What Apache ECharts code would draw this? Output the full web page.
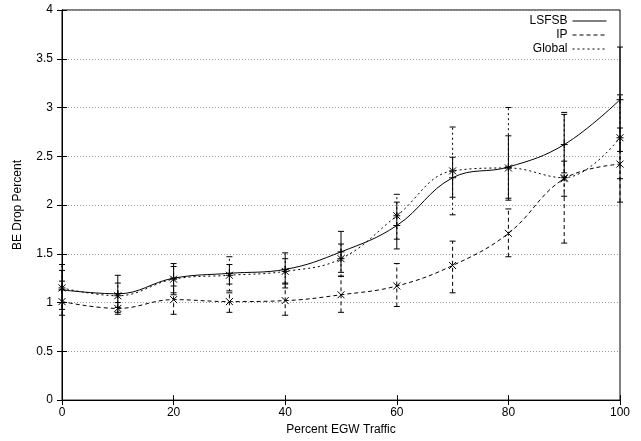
<!DOCTYPE html>
<html>
<head>
<meta charset="utf-8">
<script src="https://cdn.jsdelivr.net/npm/echarts@6/dist/echarts.min.js"></script>
<style>
html,body{margin:0;padding:0;background:#fff;}
#main{width:641px;height:441px;}
</style>
</head>
<body>
<div id="main"></div>
<script>
// percent of EGW traffic
var xVals = [0, 10, 20, 30, 40, 50, 60, 70, 80, 90, 100];

var lsfsb     = [1.13, 1.09, 1.25, 1.30, 1.34, 1.52, 1.79, 2.28, 2.39, 2.62, 3.08];
var lsfsbLow  = [0.93, 0.90, 1.10, 1.19, 1.19, 1.31, 1.55, 2.08, 2.07, 2.33, 2.55];
var lsfsbHigh = [1.33, 1.28, 1.40, 1.39, 1.51, 1.73, 2.03, 2.49, 2.71, 2.93, 3.62];

var ip     = [1.01, 0.94, 1.03, 1.01, 1.02, 1.08, 1.17, 1.38, 1.71, 2.27, 2.42];
var ipLow  = [0.87, 0.88, 0.88, 0.90, 0.87, 0.90, 0.96, 1.10, 1.47, 1.61, 2.03];
var ipHigh = [1.22, 1.00, 1.17, 1.10, 1.20, 1.27, 1.40, 1.63, 1.96, 2.45, 2.79];

var glob     = [1.15, 1.07, 1.24, 1.28, 1.32, 1.45, 1.89, 2.35, 2.38, 2.28, 2.69];
var globLow  = [1.00, 0.95, 1.08, 1.12, 1.15, 1.27, 1.65, 1.90, 2.05, 2.09, 2.27];
var globHigh = [1.39, 1.20, 1.37, 1.47, 1.45, 1.60, 2.11, 2.80, 3.00, 2.95, 3.13];

var FONT = 'Liberation Sans';

function pairs(ys){
    var out = [];
    for(var i=0;i<xVals.length;i++){ out.push([xVals[i], ys[i]]); }
    return out;
}
function errRows(ys, lo, hi){
    var out = [];
    for(var i=0;i<xVals.length;i++){ out.push([xVals[i], lo[i], hi[i], ys[i]]); }
    return out;
}

// error bar + point marker drawn per data point
function errRender(dash, mark){
    return function(params, api){
        var x = api.value(0);
        var pLo = api.coord([x, api.value(1)]);
        var pHi = api.coord([x, api.value(2)]);
        var pM = api.coord([x, api.value(3)]);
        var st = {stroke:'#000', lineWidth:1, lineDash:dash, fill:null};
        var ms = {stroke:'#000', lineWidth:1, fill:null};
        var c = 3, m = 3.5;
        var kids = [
            {type:'line', shape:{x1:pLo[0], y1:pLo[1], x2:pHi[0], y2:pHi[1]}, style:st},
            {type:'line', shape:{x1:pLo[0]-c, y1:pLo[1], x2:pLo[0]+c, y2:pLo[1]}, style:ms},
            {type:'line', shape:{x1:pHi[0]-c, y1:pHi[1], x2:pHi[0]+c, y2:pHi[1]}, style:ms}
        ];
        if(mark=='+' || mark=='*'){
            kids.push({type:'line', shape:{x1:pM[0]-m, y1:pM[1], x2:pM[0]+m, y2:pM[1]}, style:ms});
            kids.push({type:'line', shape:{x1:pM[0], y1:pM[1]-m, x2:pM[0], y2:pM[1]+m}, style:ms});
        }
        if(mark=='x' || mark=='*'){
            kids.push({type:'line', shape:{x1:pM[0]-m, y1:pM[1]-m, x2:pM[0]+m, y2:pM[1]+m}, style:ms});
            kids.push({type:'line', shape:{x1:pM[0]-m, y1:pM[1]+m, x2:pM[0]+m, y2:pM[1]-m}, style:ms});
        }
        return {type:'group', children:kids};
    };
}

function $extend(a, b){
    var o = {}, k;
    for(k in a){ o[k] = a[k]; }
    for(k in b){ o[k] = b[k]; }
    return o;
}

var myChart = echarts.init(document.getElementById('main'));

var legendBase = {
    orient:'horizontal', align:'right', right:34, itemWidth:34, itemHeight:10,
    textStyle:{fontFamily:FONT, fontSize:12, color:'#000'}, selectedMode:false,
    padding:0, itemGap:6,
    itemStyle:{color:'rgba(0,0,0,0)', borderWidth:0, opacity:0},
    lineStyle:{width:1, color:'#000'}
};

var option = {
    backgroundColor:'#fff',
    animation:false,
    grid:{left:62, right:21, top:10, bottom:39, show:true, borderColor:'#000', borderWidth:1},
    legend:[
        $extend(legendBase, {data:['LSFSB'], top:15}),
        $extend(legendBase, {data:['IP'], top:29}),
        $extend(legendBase, {data:['Global'], top:43})
    ],
    xAxis:[{
        type:'value', min:0, max:100, interval:20,
        name:'Percent EGW Traffic', nameLocation:'middle', nameGap:22,
        nameTextStyle:{fontFamily:FONT, fontSize:12, color:'#000'},
        axisLine:{lineStyle:{color:'#000'}},
        axisTick:{inside:true, length:5, lineStyle:{color:'#000'}},
        axisLabel:{fontFamily:FONT, fontSize:12, color:'#000', margin:7},
        splitLine:{show:false}
    },{
        type:'value', min:0, max:100, interval:20, position:'top',
        axisLine:{lineStyle:{color:'#000'}},
        axisTick:{inside:true, length:5, lineStyle:{color:'#000'}},
        axisLabel:{show:false}, splitLine:{show:false}
    }],
    yAxis:[{
        type:'value', min:0, max:4, interval:0.5,
        name:'BE Drop Percent', nameLocation:'middle', nameGap:38,
        nameTextStyle:{fontFamily:FONT, fontSize:12, color:'#000'},
        axisLine:{lineStyle:{color:'#000'}},
        axisTick:{inside:true, length:5, lineStyle:{color:'#000'}},
        axisLabel:{fontFamily:FONT, fontSize:12, color:'#000', margin:9},
        splitLine:{show:true, lineStyle:{color:'#999', type:[1,2], width:1}}
    },{
        type:'value', min:0, max:4, interval:0.5, position:'right',
        axisLine:{show:true, lineStyle:{color:'#000'}},
        axisTick:{show:true, inside:true, length:5, lineStyle:{color:'#000'}},
        axisLabel:{show:false}, splitLine:{show:false}
    }],
    series:[
        {name:'LSFSB', type:'line', data:pairs(lsfsb), smooth:0.4, symbol:'none',
         lineStyle:{color:'#000', width:1, type:'solid'}, itemStyle:{color:'#000'}},
        {name:'IP', type:'line', data:pairs(ip), smooth:0.4, symbol:'none',
         lineStyle:{color:'#000', width:1, type:[4,3]}, itemStyle:{color:'#000'}},
        {name:'Global', type:'line', data:pairs(glob), smooth:0.4, symbol:'none',
         lineStyle:{color:'#000', width:1, type:[2,3]}, itemStyle:{color:'#000'}},
        {name:'LSFSB err', type:'custom', data:errRows(lsfsb, lsfsbLow, lsfsbHigh),
         renderItem:errRender(null, '+'), z:3},
        {name:'IP err', type:'custom', data:errRows(ip, ipLow, ipHigh),
         renderItem:errRender([4,3], 'x'), z:3},
        {name:'Global err', type:'custom', data:errRows(glob, globLow, globHigh),
         renderItem:errRender([2,3], '*'), z:3}
    ]
};

myChart.setOption(option);
</script>
</body>
</html>
